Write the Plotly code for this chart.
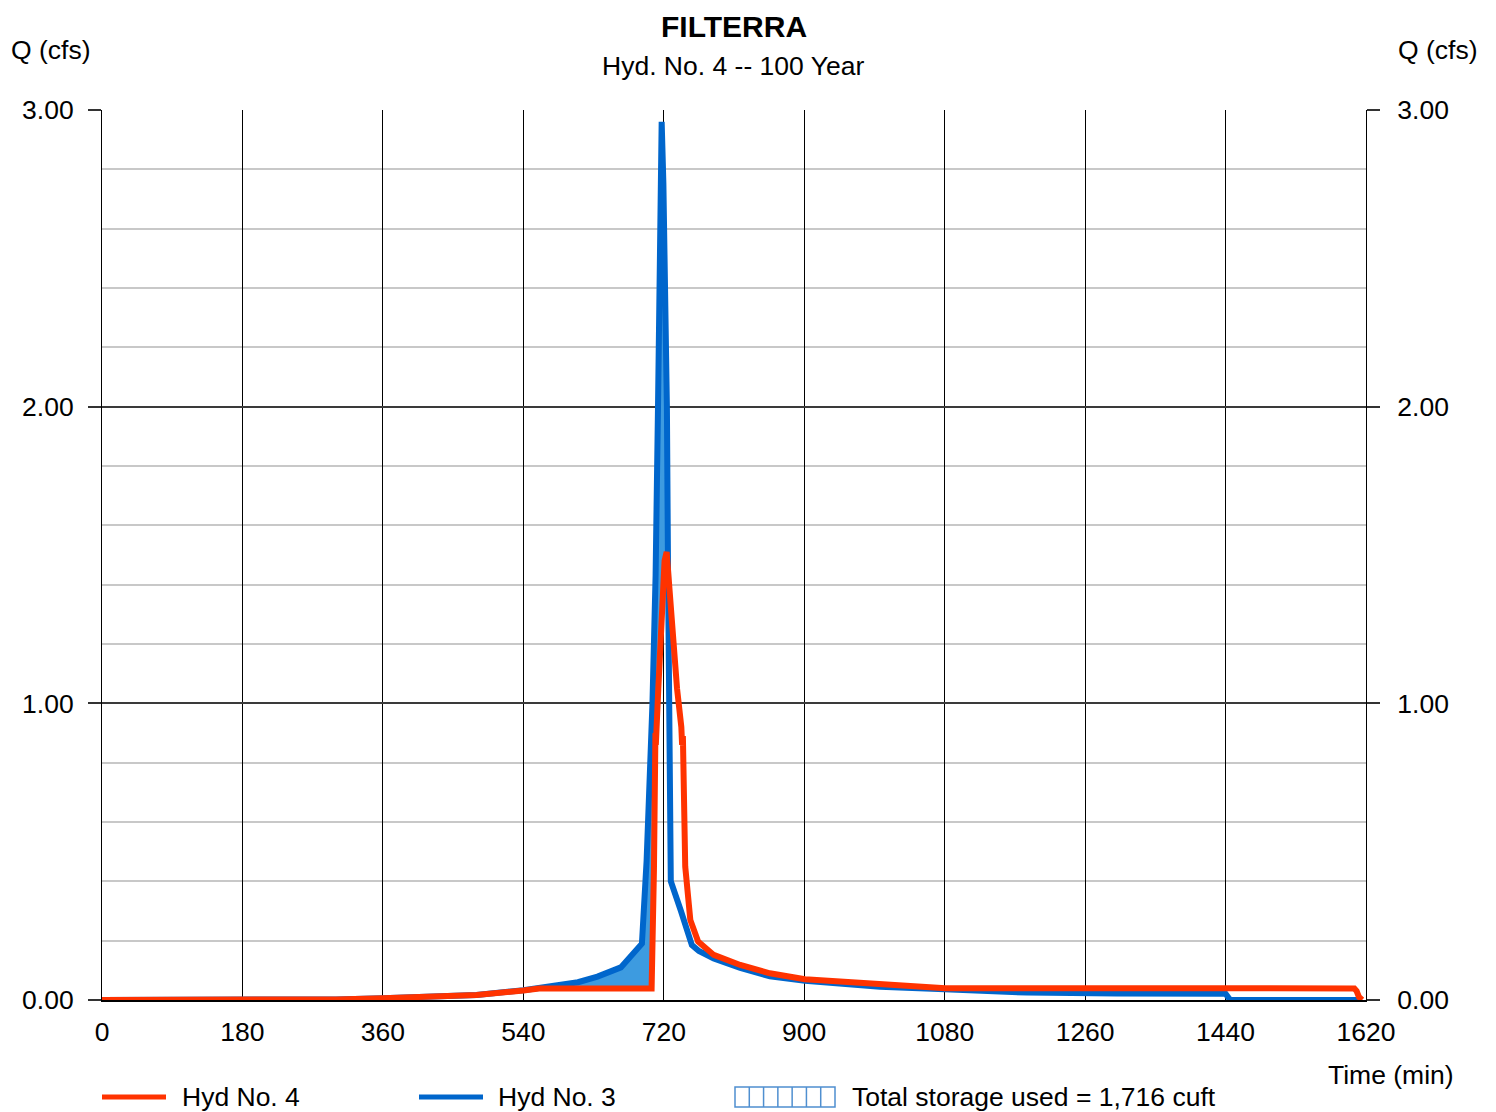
import numpy as np
import plotly.graph_objects as go

# ---------------- data ----------------
# Hyd No. 3 (inflow)
t3 = [0, 240, 300, 360, 420, 480, 540, 580, 610, 635, 665, 692, 698, 705.5, 709.5,
      712.6, 715.2, 717.3, 719.5, 721.6, 724, 725.5, 726.5, 728, 729, 742, 756, 765,
      784, 818, 856, 901, 997, 1080, 1185, 1300, 1440, 1446, 1615]
q3 = [0, 0, 0.002, 0.006, 0.011, 0.017, 0.033, 0.046, 0.06, 0.079, 0.11, 0.19, 0.47, 1.00, 1.43,
      2.00, 2.49, 2.96, 2.75, 2.49, 2.00, 1.43, 0.95, 0.47, 0.40, 0.30, 0.185, 0.165,
      0.14, 0.108, 0.08, 0.065, 0.045, 0.036, 0.025, 0.022, 0.021, 0.0, 0.0]

# Hyd No. 4 (outflow)
t4 = [0, 240, 300, 360, 420, 480, 540, 560, 704.4, 705, 707.4, 709.3, 709.8, 713, 717, 721,
      723.7, 728, 737, 742.5, 743.5, 744.5, 747.5, 750, 754, 764, 784, 818, 856, 901, 997,
      1081, 1605, 1608, 1611, 1615]
q4 = [0, 0, 0.002, 0.006, 0.011, 0.017, 0.032, 0.039, 0.039, 0.10, 0.44, 0.90, 0.86, 1.05, 1.30, 1.48,
      1.51, 1.35, 1.05, 0.92, 0.86, 0.89, 0.45, 0.36, 0.27, 0.197, 0.152, 0.118, 0.09, 0.07, 0.053,
      0.040, 0.039, 0.03, 0.01, 0.0]

x_ticks = [0, 180, 360, 540, 720, 900, 1080, 1260, 1440, 1620]
y_ticks = [0, 1, 2, 3]

title = "FILTERRA"
subtitle = "Hyd. No. 4 -- 100 Year"
legend_names = ["Hyd No. 4", "Hyd No. 3", "Total storage used = 1,716 cuft"]

RED = "#ff3300"
BLUE = "#0066cc"
FILL = "#3d9be0"
FONT = "Liberation Sans, Arial, sans-serif"
FS = 26.5

# storage fill: region where inflow exceeds outflow
tu = np.union1d(t3, t4)
qi = np.interp(tu, t3, q3)
qo = np.interp(tu, t4, q4)
upper = np.maximum(qi, qo)

fig = go.Figure()
fig.add_trace(go.Scatter(x=tu, y=qo, mode="lines", line=dict(width=0, color=FILL),
                         showlegend=False, hoverinfo="skip"))
fig.add_trace(go.Scatter(x=tu, y=upper, mode="lines", line=dict(width=0, color=FILL),
                         fill="tonexty", fillcolor=FILL, showlegend=False, hoverinfo="skip"))
fig.add_trace(go.Scatter(x=t3, y=q3, mode="lines", name=legend_names[1],
                         line=dict(color=BLUE, width=6), showlegend=False))
fig.add_trace(go.Scatter(x=t4, y=q4, mode="lines", name=legend_names[0],
                         line=dict(color=RED, width=6), showlegend=False))

# page body adds an 8px offset; work in screenshot pixels and subtract it
OFF = 8
W, H = 1496 - OFF, 1112 - OFF
L, T = 102 - OFF, 110 - OFF
PR, PB = 1366 - OFF, 1000 - OFF
R, B = W - PR, H - PB
pw, ph = PR - L, PB - T


def px_x(px):
    return (px - OFF - L) / pw


def px_y(py):
    return (PB - (py - OFF)) / ph


def txt(s, x, y, anchor="left", size=FS):
    return dict(text=s, x=px_x(x), y=px_y(y), xref="paper", yref="paper", xanchor=anchor,
                yanchor="middle", showarrow=False,
                font=dict(size=size, color="black", family=FONT))


annotations = [
    txt("<b>%s</b>" % title, 734.5, 27, "center", 30),
    txt(subtitle, 733, 66, "center"),
    txt("Q (cfs)", 9, 50),
    txt("Q (cfs)", 1396, 50),
    txt("Time (min)", 1456, 1075, "right"),
    txt(legend_names[0], 180, 1097),
    txt(legend_names[1], 496, 1097),
    txt(legend_names[2], 850, 1097),
]

shapes = [
    dict(type="line", xref="paper", yref="paper", x0=px_x(102), x1=px_x(166), y0=px_y(1097), y1=px_y(1097),
         line=dict(color=RED, width=5)),
    dict(type="line", xref="paper", yref="paper", x0=px_x(419), x1=px_x(483), y0=px_y(1097), y1=px_y(1097),
         line=dict(color=BLUE, width=5)),
    dict(type="rect", xref="paper", yref="paper", x0=px_x(735), x1=px_x(835), y0=px_y(1107), y1=px_y(1087),
         line=dict(color="#4f8fd0", width=1.5), fillcolor="rgba(0,0,0,0)"),
]
for i in range(1, 7):
    xx = 735 + i * 100 / 7
    shapes.append(dict(type="line", xref="paper", yref="paper", x0=px_x(xx), x1=px_x(xx),
                       y0=px_y(1107), y1=px_y(1087), line=dict(color="#4f8fd0", width=1.5)))

yaxis_common = dict(
    range=[0, 3], tickvals=y_ticks, tickformat=".2f", ticks="outside", ticklen=13,
    tickcolor="#333333", tickwidth=1.5, tickfont=dict(size=FS, color="black", family=FONT),
    zeroline=False, fixedrange=True,
)

fig.update_layout(
    width=W, height=H,
    margin=dict(l=L, r=R, t=T, b=B),
    plot_bgcolor="white", paper_bgcolor="white",
    showlegend=False,
    font=dict(family=FONT, color="black"),
    xaxis=dict(range=[0, 1620], tickvals=x_ticks, showgrid=True, gridcolor="#000000", gridwidth=1,
               zeroline=False, showline=True, linecolor="#000000", linewidth=1.5, mirror=False,
               ticks="", ticklabelstandoff=7,
               tickfont=dict(size=FS, color="black", family=FONT)),
    yaxis=dict(**yaxis_common, showgrid=True, gridcolor="#3a3a3a", gridwidth=1.5,
               showline=True, linecolor="#000000", linewidth=1, mirror=True,
               ticklabelstandoff=9,
               minor=dict(dtick=0.2, tick0=0, showgrid=True, gridcolor="#c8c8c8", gridwidth=2, ticks="")),
    yaxis2=dict(**yaxis_common, overlaying="y", side="right", showgrid=False, ticklabelstandoff=12),
    annotations=annotations,
    shapes=shapes,
)
fig.add_trace(go.Scatter(x=[0, 1620], y=[0, 0], yaxis="y2", mode="lines",
                         line=dict(width=0), showlegend=False, hoverinfo="skip"))

fig.write_html("out.html")
